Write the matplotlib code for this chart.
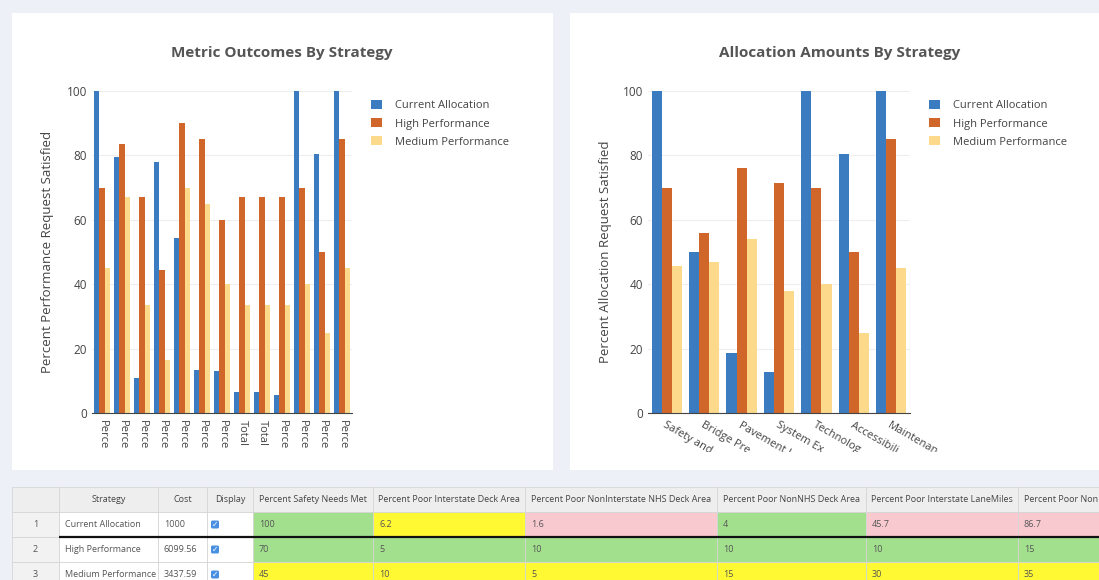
import numpy as np
import matplotlib
matplotlib.use("Agg")
import matplotlib.pyplot as plt
from matplotlib.patches import Rectangle, FancyBboxPatch

plt.rcParams["font.family"] = ["Open Sans", "DejaVu Sans"]

# ---- data ----
series = ["Current Allocation", "High Performance", "Medium Performance"]
colors = ["#3b7bbf", "#d1662a", "#fdd98c"]

metric_labels = ["Perce"] * 7 + ["Total", "Total"] + ["Perce"] * 4
metric_current = [100, 79.5, 11, 78, 54.5, 13.5, 13, 6.5, 6.5, 5.5, 100, 80.5, 100]
metric_high = [70, 83.5, 67, 44.5, 90, 85, 60, 67, 67, 67, 70, 50, 85]
metric_medium = [45, 67, 33.5, 16.5, 70, 65, 40, 33.5, 33.5, 33.5, 40, 25, 45]

alloc_labels = ["Safety and", "Bridge Pre", "Pavement I", "System Ex",
                "Technolog", "Accessibili", "Maintenan"]
alloc_current = [100, 50, 18.5, 12.7, 100, 80.5, 100]
alloc_high = [70, 56, 76, 71.5, 70, 50, 85]
alloc_medium = [45.5, 47, 54, 38, 40, 25, 45]

tbl_headers = ["", "Strategy", "Cost", "Display", "Percent Safety Needs Met",
               "Percent Poor Interstate Deck Area",
               "Percent Poor NonInterstate NHS Deck Area",
               "Percent Poor NonNHS Deck Area",
               "Percent Poor Interstate LaneMiles",
               "Percent Poor NonI"]
tbl_strategy = ["Current Allocation", "High Performance", "Medium Performance"]
tbl_cost = ["1000", "6099.56", "3437.59"]
tbl_values = [["100", "6.2", "1.6", "4", "45.7", "86.7"],
              ["70", "5", "10", "10", "10", "15"],
              ["45", "10", "5", "15", "30", "35"]]
tbl_status = [["g", "y", "p", "g", "p", "p"],
              ["g", "g", "g", "g", "g", "g"],
              ["y", "y", "y", "y", "y", "y"]]
STATUS_COL = {"g": "#a2e08e", "y": "#fff933", "p": "#f8c9cf"}

W, H = 1099, 580
fig = plt.figure(figsize=(W / 100, H / 100), dpi=100, facecolor="#edf1f7")

# canvas axes in pixel coordinates for panels + table
cv = fig.add_axes([0, 0, 1, 1], zorder=0)
cv.set_xlim(0, W); cv.set_ylim(H, 0); cv.axis("off")
cv.add_patch(Rectangle((12, 13), 541, 457, fc="white", ec="none"))
cv.add_patch(Rectangle((570, 13), 560, 457, fc="white", ec="none"))


def bar_chart(rect, labels, vals, title, ylabel, title_x, leg_x, ylab_x):
    ax = fig.add_axes([rect[0] / W, 1 - rect[3] / H, (rect[2] - rect[0]) / W,
                       (rect[3] - rect[1]) / H], zorder=1)
    ax.patch.set_alpha(0)
    x = np.arange(len(labels))
    w = 0.27
    for i, (s, v, c) in enumerate(zip(series, vals, colors)):
        ax.bar(x + (i - 1) * w, v, width=w, color=c, label=s, zorder=2)
    ax.set_xlim(-0.5, len(labels) - 0.5)
    ax.set_ylim(0, 100)
    ax.set_yticks([0, 20, 40, 60, 80, 100])
    ax.yaxis.grid(True, color="#eeeeee", lw=0.8, zorder=0)
    for s in ["top", "right", "left"]:
        ax.spines[s].set_visible(False)
    ax.spines["bottom"].set_color("#444444")
    ax.tick_params(axis="y", length=0, pad=3.5, labelsize=8.5, labelcolor="#444444")
    ax.tick_params(axis="x", length=0, pad=5, labelsize=8, labelcolor="#444444")
    ax.set_xticks(x)
    fig.text(title_x / W, 1 - 53 / H, title, ha="center", va="center",
             fontsize=11, fontweight="bold", color="#555555")
    fig.text(ylab_x / W, 1 - 252 / H, ylabel, rotation=90, ha="center",
             va="center", fontsize=9.5, color="#444444")
    ax.legend(loc="upper left", bbox_to_anchor=(leg_x / W, 1 - 100 / H),
              bbox_transform=fig.transFigure, frameon=False, fontsize=8,
              handlelength=1.0, handleheight=0.9, handletextpad=1.2,
              labelspacing=0.6, borderaxespad=0, borderpad=0,
              labelcolor="#444444")
    return ax


axL = bar_chart((92, 91, 352, 413), metric_labels,
                [metric_current, metric_high, metric_medium],
                "Metric Outcomes By Strategy",
                "Percent Performance Request Satisfied", 282, 371, 48)
axL.set_xticklabels(metric_labels, rotation=-90, ha="center", va="top")

axR = bar_chart((648, 91, 910, 413), alloc_labels,
                [alloc_current, alloc_high, alloc_medium],
                "Allocation Amounts By Strategy",
                "Percent Allocation Request Satisfied", 840, 929, 606)
axR.set_xticklabels(alloc_labels, rotation=-30, ha="left", va="top",
                    rotation_mode="anchor")

# labels are cut off at the bottom of the chart area
for x0, x1 in [(12, 553), (570, 1130)]:
    fig.patches.append(Rectangle(((x0) / W, 1 - 470 / H), (x1 - x0) / W, 18 / H,
                                 transform=fig.transFigure, fc="white",
                                 ec="none", zorder=10))

# ---- table ----
cols = [12, 59, 158, 207, 253, 373, 525, 717, 866, 1018, 1190]
rows = [487, 512, 537, 562, 587]
grid = "#d6d6d6"
txt = "#555555"
fs = 6.5
for j in range(len(cols) - 1):
    cv.add_patch(Rectangle((cols[j], rows[0]), cols[j + 1] - cols[j],
                           rows[1] - rows[0], fc="#eeeeee", ec=grid, lw=0.6))
    if j == len(cols) - 2:
        cv.text(cols[j] + 6, (rows[0] + rows[1]) / 2, tbl_headers[j],
                ha="left", va="center", fontsize=fs, color="#444444")
    else:
        cv.text((cols[j] + cols[j + 1]) / 2, (rows[0] + rows[1]) / 2,
                tbl_headers[j], ha="center", va="center", fontsize=fs,
                color="#444444")
for i in range(3):
    y0, y1 = rows[i + 1], rows[i + 2]
    yc = (y0 + y1) / 2
    for j in range(len(cols) - 1):
        if j == 0:
            fc = "#f2f2f2"
        elif j >= 4:
            fc = STATUS_COL[tbl_status[i][j - 4]]
        else:
            fc = "white"
        cv.add_patch(Rectangle((cols[j], y0), cols[j + 1] - cols[j], y1 - y0,
                               fc=fc, ec=grid, lw=0.6))
    cv.text((cols[0] + cols[1]) / 2, yc, str(i + 1), ha="center", va="center",
            fontsize=fs, color=txt)
    cv.text(cols[1] + 6, yc, tbl_strategy[i], ha="left", va="center",
            fontsize=fs, color=txt)
    cv.text(cols[2] + 6, yc, tbl_cost[i], ha="left", va="center",
            fontsize=fs, color=txt)
    cv.add_patch(FancyBboxPatch((211, yc - 4), 8, 8,
                                boxstyle="round,pad=0,rounding_size=1.5",
                                fc="#4a90e2", ec="none"))
    cv.text(215, yc + 0.3, "\u2713", ha="center", va="center", fontsize=5.5,
            color="white", family="DejaVu Sans", fontweight="bold")
    for j, v in enumerate(tbl_values[i]):
        cv.text(cols[j + 4] + 6, yc, v, ha="left", va="center",
                fontsize=fs, color=txt)
cv.plot([59, 1099], [537, 537], color="#111111", lw=1.6, solid_capstyle="butt")

fig.savefig("out.png", dpi=100, facecolor=fig.get_facecolor())
